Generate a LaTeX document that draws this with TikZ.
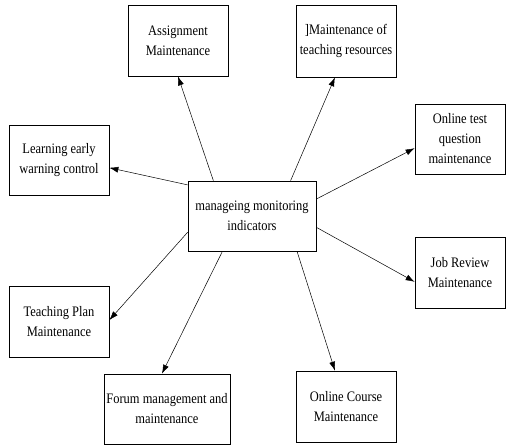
\documentclass[tikz,border=0pt]{standalone}
\usepackage{fontspec}
\setmainfont[FakeStretch=0.86]{Liberation Serif}
\usetikzlibrary{calc,arrows.meta}
\begin{document}
\begin{tikzpicture}[x=1pt,y=-1pt,
  box/.style={draw, line width=0.7pt, inner sep=0pt, align=center,
    font=\fontsize{14.5}{20}\selectfont},
  arr/.style={-{Latex[length=9pt,width=6pt]}, line width=0.5pt}]
\useasboundingbox (0,0) rectangle (506,445);
\node[box, minimum width=100, minimum height=71] (as) at (178,40.5) {Assignment\\Maintenance};
\node[box, minimum width=100, minimum height=72] (res) at (346,41) {]Maintenance of\\teaching resources};
\node[box, minimum width=100, minimum height=70] (lea) at (59,160) {Learning early\\warning control};
\node[box, minimum width=128, minimum height=70] (c) at (252,216) {manageing monitoring\\indicators};
\node[box, minimum width=90, minimum height=70] (ot) at (460,139) {Online test\\question\\maintenance};
\node[box, minimum width=90, minimum height=71] (jr) at (460,272.5) {Job Review\\Maintenance};
\node[box, minimum width=100, minimum height=71] (tp) at (59,321.5) {Teaching Plan\\Maintenance};
\node[box, minimum width=126, minimum height=70] (fo) at (167,409) {Forum management and\\maintenance};
\node[box, minimum width=100, minimum height=71] (oc) at (346,406.5) {Online Course\\Maintenance};
\draw[arr] ($(c.north west)!0.20!(c.north east)$) -- (as.south);
\draw[arr] ($(c.north west)!0.80!(c.north east)$) -- ($(res.south west)!0.39!(res.south east)$);
\draw[arr] ($(c.north west)!0.06!(c.south west)$) -- ($(lea.north east)!0.61!(lea.south east)$);
\draw[arr] ($(c.north east)!0.26!(c.south east)$) -- ($(ot.north west)!0.63!(ot.south west)$);
\draw[arr] ($(c.north east)!0.66!(c.south east)$) -- ($(jr.north west)!0.63!(jr.south west)$);
\draw[arr] ($(c.south west)!0.85!(c.south east)$) -- ($(oc.north west)!0.39!(oc.north east)$);
\draw[arr] ($(c.south west)!0.27!(c.south east)$) -- ($(fo.north west)!0.46!(fo.north east)$);
\draw[arr] ($(c.north west)!0.73!(c.south west)$) -- ($(tp.north east)!0.48!(tp.south east)$);
\end{tikzpicture}
\end{document}
